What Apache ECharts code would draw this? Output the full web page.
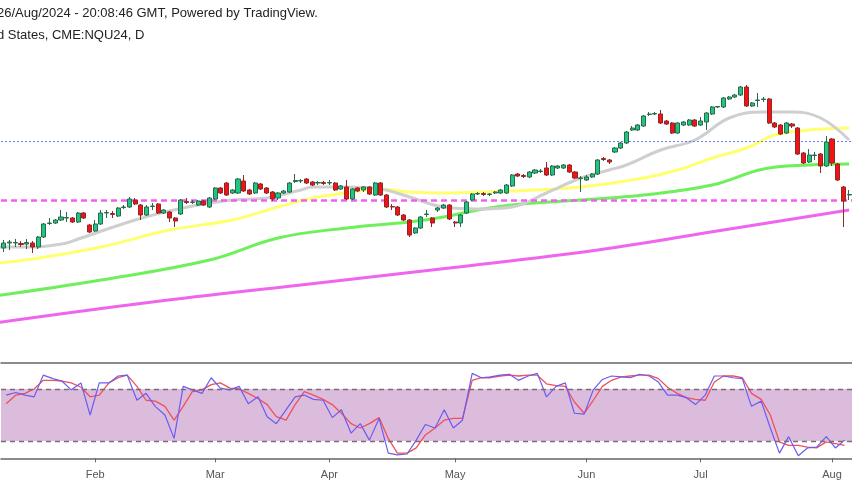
<!DOCTYPE html>
<html><head><meta charset="utf-8">
<script src="https://cdn.jsdelivr.net/npm/echarts@6/dist/echarts.min.js"></script>
<style>html,body{margin:0;padding:0;background:#fff}#c{width:852px;height:485px}</style>
</head><body><div id="c"></div>
<script>
// candles: [open, close, low, high]
const candles = [
[17520,17570,17480,17600],[17570,17580,17500,17600],[17570,17575,17530,17610],[17565,17555,17530,17590],[17560,17575,17510,17610],
[17570,17530,17470,17590],[17530,17630,17510,17640],[17630,17760,17620,17770],[17765,17770,17750,17820],[17770,17800,17760,17810],
[17800,17830,17790,17900],[17820,17825,17780,17880],[17820,17780,17770,17830],[17780,17870,17770,17880],[17870,17820,17810,17880],
[17750,17680,17670,17760],[17690,17760,17680,17800],[17760,17870,17750,17900],[17870,17875,17820,17900],[17865,17855,17820,17890],
[17840,17920,17830,17930],[17925,17930,17910,17950],[17930,18010,17920,18030],[18000,17960,17950,18020],[17950,17850,17800,17960],
[17850,17930,17840,17950],[17935,17940,17900,17970],[17960,17870,17860,17970],[17870,17900,17860,17910],[17880,17820,17780,17890],
[17820,17790,17730,17830],[17860,18000,17850,18010],[17985,17975,17960,18020],[17975,17980,17960,18000],[17950,17990,17940,18000],
[17990,17950,17940,18000],[17930,18020,17920,18030],[18010,18120,18000,18130],[18120,18070,18060,18130],[18170,18050,18040,18180],
[18070,18100,18060,18110],[18070,18210,18060,18220],[18190,18090,18080,18250],[18100,18060,18050,18110],[18070,18170,18060,18180],
[18160,18110,18100,18170],[18120,18070,18060,18130],[18080,18010,17990,18090],[18020,18070,18000,18080],[18070,18090,18060,18100],
[18080,18170,18070,18180],[18185,18195,18170,18260],[18190,18195,18170,18210],[18210,18170,18160,18220],[18180,18150,18140,18190],
[18170,18175,18150,18190],[18175,18165,18150,18190],[18170,18175,18150,18200],[18170,18100,18090,18180],[18110,18140,18100,18150],
[18130,18010,18000,18200],[18010,18110,18000,18120],[18120,18090,18080,18130],[18100,18130,18080,18140],[18130,18060,18050,18140],
[18050,18170,18040,18180],[18170,18050,18040,18180],[18050,17930,17920,18060],[17935,17930,17900,17960],[17930,17850,17840,17940],
[17850,17800,17790,17860],[17800,17650,17630,17810],[17670,17720,17660,17730],[17720,17830,17710,17840],[17855,17860,17830,17900],
[17820,17770,17730,17830],[17900,17920,17880,17930],[17920,17950,17910,17960],[17950,17810,17800,17960],[17780,17770,17730,17790],
[17770,17850,17730,17860],[17870,17980,17860,17990],[18000,18060,17990,18070],[18060,18065,18050,18080],[18065,18055,18040,18080],
[18055,18060,18040,18070],[18070,18080,18060,18090],[18070,18100,18060,18110],[18070,18150,18060,18160],[18140,18250,18130,18260],
[18260,18240,18230,18270],[18245,18235,18220,18260],[18230,18280,18220,18290],[18270,18300,18260,18310],[18285,18290,18270,18310],
[18320,18250,18240,18380],[18250,18340,18240,18350],[18320,18340,18310,18350],[18320,18350,18310,18360],[18350,18280,18270,18360],
[18280,18220,18210,18290],[18215,18220,18080,18240],[18200,18230,18190,18250],[18230,18260,18220,18270],[18260,18400,18250,18410],
[18415,18405,18390,18430],[18400,18380,18360,18410],[18480,18520,18470,18530],[18520,18570,18510,18580],[18570,18680,18560,18690],
[18700,18720,18690,18740],[18700,18750,18690,18760],[18740,18840,18730,18850],[18855,18860,18840,18880],[18860,18865,18850,18880],
[18860,18770,18760,18900],[18790,18760,18750,18800],[18770,18670,18660,18780],[18670,18770,18660,18780],[18750,18780,18740,18790],
[18750,18800,18740,18810],[18800,18740,18730,18810],[18750,18790,18740,18830],[18780,18870,18700,18880],[18860,18930,18850,18940],
[18930,18935,18920,18940],[18930,19020,18920,19030],[19010,19030,19000,19040],[19030,19050,19020,19060],[19050,19130,19040,19140],
[19130,18940,18930,19150],[18940,18970,18930,18980],[18995,19000,18930,19070],[19005,19010,18980,19030],[19010,18770,18760,19020],
[18770,18730,18720,18780],[18750,18660,18650,18760],[18670,18770,18660,18780],[18760,18740,18720,18770],[18720,18460,18450,18730],
[18470,18370,18360,18480],[18380,18450,18370,18510],[18445,18450,18400,18480],[18460,18340,18270,18470],[18340,18580,18330,18640],
[18610,18370,18340,18620],[18360,18200,18190,18370],[18130,17990,17730,18140],[18050,18055,18000,18100]
];
// moving averages as [dayIndex, value]
const ma20 = [[-1,17530],[5,17530],[11,17570],[13,17610],[23,17800],[29,17890],[34,17950],[40,18000],[46,18020],[52,18100],[54,18130],[60,18130],[66,18110],[71,18030],[77,17930],[83,17910],[89,17930],[95,18070],[101,18220],[106,18300],[109,18350],[115,18500],[121,18600],[127,18820],[133,18880],[138,18880],[143,18820],[148,18600]];
const ma50 = [[-1,17370],[5,17410],[17,17530],[29,17700],[40,17800],[48,17930],[54,18020],[60,18070],[66,18110],[71,18080],[77,18070],[83,18080],[89,18090],[101,18130],[112,18220],[118,18300],[124,18420],[130,18520],[135,18650],[141,18700],[148,18720]];
const ma100 = [[-1,17045],[17,17200],[36,17400],[48,17620],[60,17720],[71,17780],[77,17830],[83,17900],[89,17950],[101,18000],[112,18050],[124,18150],[133,18310],[141,18350],[148,18360]];
const ma200 = [[-1,16775],[26,16980],[52,17150],[78,17320],[104,17500],[126,17700],[148,17900]];
const levelBlue = 18590, levelMagenta = 18000;
// stochastic
const stochDays = [0.4,2.1,3.7,5.3,6.9,8.6,10.2,11.8,13.5,15.1,16.7,18.4,20.0,21.6,23.3,24.9,26.5,28.2,29.8,31.4,33.0,34.7,36.3,37.9,39.6,41.2,42.8,44.5,46.1,47.7,49.4,51.0,52.6,54.2,55.9,57.5,59.1,60.8,62.4,64.0,65.7,67.3,68.9,70.6,72.2,73.8,75.5,77.1,78.7,80.3,82.0,83.6,85.2,86.9,88.5,90.1,91.8,93.4,95.0,96.7,98.3,99.9,101.6,103.2,104.8,106.4,108.1,109.7,111.3,113.0,114.6,116.2,117.9,119.5,121.1,122.8,124.4,126.0,127.7,129.3,130.9,132.6,134.2,135.8,137.4,139.1,140.7,142.3,144.0,145.6,147.2];
const stochK = [73,76,73,71,96,92,89,79,87,50,87,87,95,96,67,75,60,50,23,83,79,75,93,81,79,83,63,71,48,40,56,71,73,68,67,47,56,29,40,21,46,6,4,5,21,39,35,56,35,44,98,93,94,96,97,90,95,98,71,83,87,52,51,79,91,95,94,93,97,95,88,73,73,70,62,73,95,95,93,92,60,66,35,6,25,3,12,13,25,12,21];
const stochD = [63,73,75,80,90,90,89,87,82,71,73,87,93,96,83,67,66,60,44,60,77,79,85,87,81,80,75,69,62,48,44,62,77,73,68,62,52,40,35,40,47,23,6,6,12,27,35,44,46,46,90,93,93,95,96,95,96,96,86,84,83,65,52,67,83,90,94,95,96,96,92,82,75,70,68,67,88,95,95,93,75,68,50,19,15,15,13,12,19,17,15];
const monthLabels = ['Feb','Mar','Apr','May','Jun','Jul','Aug'];
const monthStartIdx = [16,37,57,79,102,122,145];

const cats = candles.map((_, i) => i);
const kData = stochDays.map((d, i) => [d, stochK[i]]);
const dData = stochDays.map((d, i) => [d, stochD[i]]);
const maLine = (data, color) => ({type:'line', data, xAxisIndex:3, yAxisIndex:0, smooth:0.4, symbol:'none', lineStyle:{color, width:3}, z:1, silent:true});

const chart = echarts.init(document.getElementById('c'));
chart.setOption({
  animation:false,
  textStyle:{fontFamily:'Arial, Liberation Sans, sans-serif'},
  graphic:[
    {type:'text', left:-3, top:7, style:{text:'26/Aug/2024 - 20:08:46 GMT, Powered by TradingView.', fontSize:13, fill:'#222', fontFamily:'Arial, Liberation Sans'}},
    {type:'text', left:-3, top:29, style:{text:'d States, CME:NQU24, D', fontSize:13, fill:'#222', fontFamily:'Arial, Liberation Sans'}}
  ],
  grid:[
    {left:1, right:-3, top:0, height:360},
    {left:1, right:-3, top:363, height:100}
  ],
  xAxis:[
    {type:'category', gridIndex:0, data:cats, boundaryGap:true, show:false},
    {type:'value', gridIndex:1, min:-0.5, max:candles.length-0.5, position:'bottom',
      axisLine:{show:true, lineStyle:{color:'#666', width:1.5}},
      axisTick:{show:true, customValues:monthStartIdx, length:4, lineStyle:{color:'#666'}},
      axisLabel:{customValues:monthStartIdx, color:'#555', fontSize:11, margin:6,
        formatter:v => monthLabels[monthStartIdx.indexOf(v)] || ''},
      splitLine:{show:false}},
    {type:'value', gridIndex:1, min:-0.5, max:candles.length-0.5, position:'top',
      axisLine:{show:true, lineStyle:{color:'#666', width:1.5}}, axisTick:{show:false}, axisLabel:{show:false}, splitLine:{show:false}},
    {type:'value', gridIndex:0, min:-0.5, max:candles.length-0.5, show:false, splitLine:{show:false}}
  ],
  yAxis:[
    {type:'value', gridIndex:0, min:16400, max:20000, show:false, splitLine:{show:false}},
    {type:'value', gridIndex:1, min:-5.4, max:110, show:false, splitLine:{show:false}}
  ],
  series:[
    maLine(ma200,'#ee66ee'),
    maLine(ma100,'#6ef05a'),
    maLine(ma50,'#ffff70'),
    maLine(ma20,'#cfcfcf'),
    {type:'line', data:[], xAxisIndex:0, yAxisIndex:0, silent:true,
      markLine:{symbol:'none', silent:true, label:{show:false}, data:[
        {yAxis:levelBlue, lineStyle:{color:'#6a7cff', type:[2,2], width:1}},
        {yAxis:levelMagenta, lineStyle:{color:'#f060f0', type:[6,4], width:2.5}}
      ]}},
    {type:'candlestick', data:candles, xAxisIndex:0, yAxisIndex:0, barWidth:'80%', z:5,
      itemStyle:{color:'#20c583', color0:'#f51212', borderColor:'#2a6a4a', borderColor0:'#8a2a2a', borderWidth:1}},
    {type:'line', data:dData, xAxisIndex:1, yAxisIndex:1, symbol:'none', lineStyle:{color:'#f0505a', width:1.3}, z:3,
      markArea:{silent:true, itemStyle:{color:'#dcbcdc'}, data:[[{yAxis:20},{yAxis:80}]]},
      markLine:{symbol:'none', silent:true, label:{show:false}, lineStyle:{color:'#7a6a7a', type:[5,4], width:1.3}, data:[{yAxis:80},{yAxis:20}]}},
    {type:'line', data:kData, xAxisIndex:1, yAxisIndex:1, symbol:'none', lineStyle:{color:'#6a5cf0', width:1.2}, z:4}
  ]
});
</script></body></html>
